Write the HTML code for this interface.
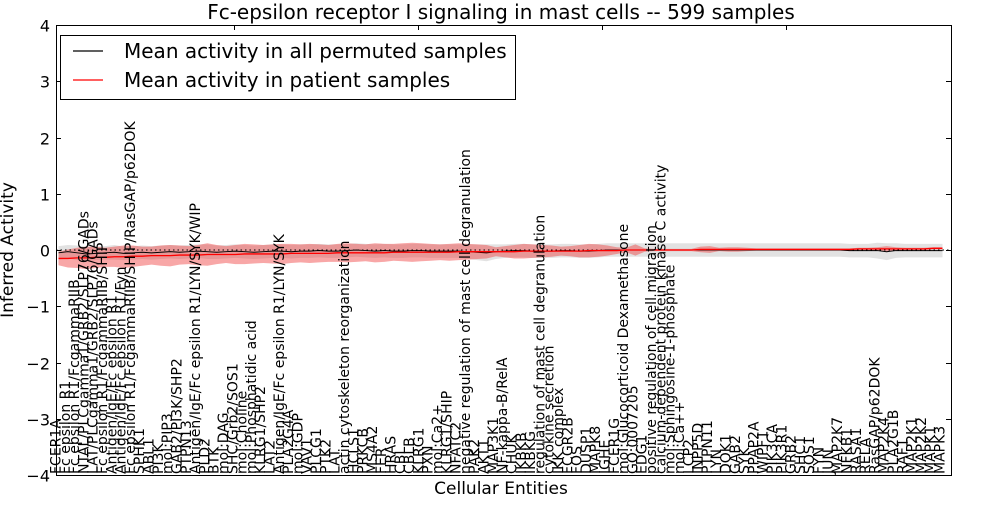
<!DOCTYPE html>
<html><head><meta charset="utf-8"><style>
body{margin:0;background:#fff;}
svg text{font-family:"DejaVu Sans","Liberation Sans",sans-serif;}
</style></head><body>
<svg id="chart" width="1000" height="500" xmlns="http://www.w3.org/2000/svg">
<rect width="1000" height="500" fill="#fff"/>
<g id="bands"></g><g id="lines"></g>
<g id="axes"></g>
<g id="xlabels"></g>
<text x="501" y="19" font-size="20" text-anchor="middle">Fc-epsilon receptor I signaling in mast cells -- 599 samples</text>
<text x="501" y="494" font-size="17" text-anchor="middle">Cellular Entities</text>
<text transform="translate(13,250) rotate(-90)" font-size="17" text-anchor="middle">Inferred Activity</text>
<g>
<rect x="60.5" y="35.5" width="455" height="64" fill="#fff" stroke="#000" stroke-width="1"/>
<line x1="73" y1="51" x2="103" y2="51" stroke="#000" stroke-width="1.2"/>
<text x="124" y="58" font-size="20">Mean activity in all permuted samples</text>
<line x1="73" y1="80" x2="103" y2="80" stroke="#f00" stroke-width="1.2"/>
<text x="124" y="87" font-size="20">Mean activity in patient samples</text>
</g>
</svg>
<script>
const labels=["FCER1A","Fc epsilon R1","Fc epsilon R1/FcgammaRIIB","NTAL/PLCgamma1/GRB2/SLP76/GADs","LAT/PLCgamma1/GRB2/SLP76/GADs","Fc epsilon R1/FcgammaRIIB/SHIP","Antigen/IgE/Fc epsilon R1","Antigen/IgE/Fc epsilon R1/Fyn","Fc epsilon R1/FcgammaRIIB/SHIP/RasGAP/p62DOK","SPHK1","ABL1","PI3K","mol:PIP3","GAB2/PI3K/SHP2","PTPN13","Antigen/IgE/Fc epsilon R1/LYN/SYK/WIP","PLD2","BTK","mol:DAG","SHC/Grb2/SOS1","mol:Choline","mol:Phosphatidic acid","KLRG1/SHP2","LAT2","Antigen/IgE/Fc epsilon R1/LYN/SYK","PLA2G4A","mol:GDP","VAV1","PLCG1","PTK2","LAT","actin cytoskeleton reorganization","HCLS1","PRKCB","MS4A2","FER","HRAS","CBL","CBLB","KLRG1","PXN","mol:Ca2+","KLRG1/SHIP","NFATC2","negative regulation of mast cell degranulation","PAK2","AKT1","MAP3K1","NF-kappa-B/RelA","CHUK","IKBKB","IKBKG","regulation of mast cell degranulation","cytokine secretion","IKK complex","FCGR2B","FOS","DUSP1","MAPK8","IGHE","FCER1G","mol:Glucocorticoid Dexamethasone","GO:0007205","EDG1","positive regulation of cell migration","calcium-dependent protein kinase C activity","mol:Sphingosine-1-phosphate","mol:Ca++","LCP2","INPP5D","PTPN11","LYN","DOK1","GAB2","SYK","PPAP2A","WIPF1","PIK3CA","PIK3R1","GRB2","SHC1","SOS1","FYN","JUN","MAP2K7","NFKB1","RASA1","RELA","RasGAP/p62DOK","MAP2K4","PLA2G1B","RAF1","MAP2K1","MAP2K2","MAPK1","MAPK3"];
const redMean=[-0.15,-0.15,-0.14,-0.14,-0.13,-0.13,-0.12,-0.12,-0.11,-0.11,-0.10,-0.10,-0.10,-0.09,-0.09,-0.09,-0.08,-0.08,-0.08,-0.08,-0.07,-0.07,-0.07,-0.07,-0.07,-0.06,-0.06,-0.06,-0.06,-0.06,-0.05,-0.05,-0.05,-0.05,-0.05,-0.05,-0.04,-0.04,-0.04,-0.04,-0.04,-0.04,-0.04,-0.03,-0.03,-0.03,-0.03,-0.03,-0.03,-0.03,-0.02,-0.02,-0.02,-0.02,-0.02,-0.02,-0.02,-0.01,-0.01,-0.01,-0.01,0.0,0.0,0.0,0.0,0.0,0.0,0.0,0.0,0.01,0.01,0.01,0.01,0.01,0.01,0.01,0.01,0.01,0.01,0.01,0.01,0.01,0.01,0.01,0.01,0.01,0.02,0.02,0.02,0.02,0.02,0.02,0.02,0.02,0.03,0.03];
const redHalf=[0.12,0.16,0.18,0.20,0.19,0.17,0.18,0.20,0.19,0.17,0.16,0.18,0.19,0.17,0.16,0.18,0.20,0.17,0.15,0.17,0.18,0.17,0.16,0.17,0.18,0.17,0.16,0.17,0.16,0.15,0.16,0.17,0.16,0.15,0.17,0.16,0.15,0.16,0.17,0.16,0.15,0.14,0.15,0.15,0.14,0.13,0.12,0.08,0.10,0.12,0.13,0.12,0.11,0.10,0.08,0.09,0.11,0.12,0.11,0.09,0.06,0.04,0.10,0.03,0.02,0.02,0.02,0.02,0.02,0.05,0.06,0.03,0.04,0.04,0.03,0.02,0.02,0.02,0.02,0.02,0.02,0.02,0.02,0.02,0.02,0.02,0.02,0.02,0.03,0.05,0.03,0.02,0.02,0.02,0.02,0.02];
const grayMean=[-0.05,-0.03,-0.05,-0.07,-0.06,-0.05,-0.04,-0.06,-0.05,-0.04,-0.05,-0.04,-0.03,-0.04,-0.03,-0.02,-0.03,-0.04,-0.03,-0.02,-0.03,-0.04,-0.03,-0.02,-0.02,-0.03,-0.02,-0.02,-0.01,-0.02,-0.02,-0.01,0.00,-0.01,-0.02,-0.01,-0.02,-0.02,-0.01,-0.01,-0.02,-0.02,-0.02,-0.02,-0.03,-0.04,-0.05,-0.03,-0.02,-0.01,-0.01,-0.02,-0.02,-0.02,-0.01,-0.01,-0.02,-0.02,-0.01,0.00,0.00,0.00,0.00,0.00,0.00,0.00,0.00,0.00,0.00,0.00,0.00,0.00,0.00,0.00,0.00,0.00,0.00,0.00,0.00,0.00,0.00,0.00,0.00,0.00,0.00,-0.01,-0.01,-0.01,-0.01,-0.03,-0.01,-0.01,-0.01,-0.01,-0.01,-0.01];
const grayHalf=[0.12,0.12,0.13,0.13,0.12,0.12,0.13,0.12,0.12,0.12,0.12,0.12,0.12,0.12,0.12,0.12,0.13,0.12,0.12,0.12,0.12,0.12,0.12,0.12,0.12,0.12,0.12,0.12,0.12,0.12,0.12,0.12,0.12,0.12,0.12,0.12,0.12,0.12,0.12,0.12,0.12,0.12,0.12,0.12,0.13,0.14,0.15,0.13,0.12,0.12,0.12,0.12,0.12,0.12,0.12,0.12,0.12,0.12,0.12,0.12,0.12,0.12,0.12,0.12,0.12,0.12,0.12,0.12,0.12,0.12,0.12,0.12,0.12,0.12,0.12,0.12,0.12,0.12,0.12,0.12,0.12,0.12,0.12,0.12,0.12,0.12,0.12,0.12,0.14,0.15,0.13,0.12,0.12,0.12,0.12,0.12];
const yTicks=[-4,-3,-2,-1,0,1,2,3,4];
const topTicks=[20,40,60,80];
const L=56,R=951,T=25,B=475;
const xs=i=>58.5+i*(942.5-58.5)/(labels.length-1);
const ys=v=>T+(4-v)*(B-T)/8;
const NS="http://www.w3.org/2000/svg";
function mk(p,t,a){const e=document.createElementNS(NS,t);for(const k in a)e.setAttribute(k,a[k]);p.appendChild(e);return e;}
const bands=document.getElementById('bands'),lines=document.getElementById('lines'),axes=document.getElementById('axes'),xl=document.getElementById('xlabels');
function band(m,h,fill){let up=m.map((v,i)=>xs(i)+','+ys(v+h[i]));let dn=m.map((v,i)=>xs(i)+','+ys(v-h[i])).reverse();return mk(bands,'polygon',{points:up.concat(dn).join(' '),fill:fill});}
const gb=band(grayMean,grayHalf,'rgba(190,190,190,0.45)');


const rb=band(redMean,redHalf,'rgba(240,60,60,0.45)');


const zl=mk(lines,'line',{x1:L,x2:R,y1:ys(0),y2:ys(0),stroke:'#000','stroke-dasharray':'1.5,3','stroke-width':1});


const gl=mk(lines,'polyline',{points:grayMean.map((v,i)=>xs(i)+','+ys(v)).join(' '),fill:'none',stroke:'#000','stroke-width':1});


const rl=mk(lines,'polyline',{points:redMean.map((v,i)=>xs(i)+','+ys(v)).join(' '),fill:'none',stroke:'#f00','stroke-width':1.3});


const fr=mk(axes,'rect',{x:L+0.5,y:T+0.5,width:R-L,height:B-T,fill:'none',stroke:'#000','stroke-width':1});


yTicks.forEach(v=>{const y=Math.round(ys(v))+0.5;
mk(axes,'line',{x1:L,x2:L+5,y1:y,y2:y,stroke:'#000'});
mk(axes,'line',{x1:R-5,x2:R,y1:y,y2:y,stroke:'#000'});
const t=mk(axes,'text',{x:L-6,y:y+6,'font-size':16,'text-anchor':'end'});t.textContent=(v<0?'\u2212':'')+Math.abs(v);

});
topTicks.forEach(v=>{const x=Math.round(50+v*9.2)+0.5;mk(axes,'line',{x1:x,x2:x,y1:T,y2:T+5,stroke:'#000'});});
labels.forEach((s,i)=>{const x=xs(i)+2;const t=mk(xl,'text',{transform:'translate('+x+','+(B-1)+') rotate(-90)','font-size':14});t.textContent=s;

});
</script>
</body></html>
